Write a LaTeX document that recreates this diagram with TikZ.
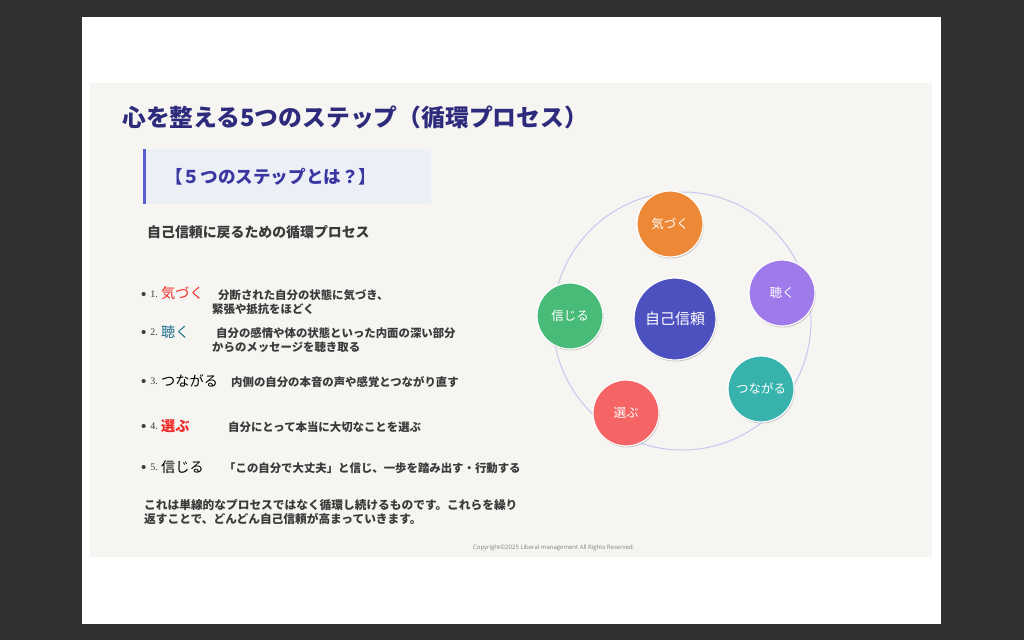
\documentclass[tikz,border=0pt]{standalone}
\usepackage{fontspec}
\setmainfont{Noto Sans CJK JP}
\newfontfamily\numfont{Liberation Serif}
\newfontfamily\dotfont{Liberation Sans}
\newfontfamily\latinfont{Open Sans}
\usepackage{xcolor}
\usetikzlibrary{positioning, shadows}

\definecolor{framegray}{HTML}{303030}
\definecolor{slidebg}{HTML}{F6F5F2}
\definecolor{titleblue}{HTML}{2E2B7C}
\definecolor{headblue}{HTML}{3A37A3}
\definecolor{barblue}{HTML}{5A5FD0}
\definecolor{headfill}{HTML}{ECF0F6}
\definecolor{bodygray}{HTML}{3A3A3A}
\definecolor{termred}{HTML}{F22A2A}
\definecolor{termteal}{HTML}{1E6E8A}
\definecolor{ringline}{HTML}{C5C9EE}
\definecolor{coreblue}{HTML}{4C51BF}
\definecolor{noticeorange}{HTML}{ED8936}
\definecolor{listenpurple}{HTML}{9F7AEA}
\definecolor{connectteal}{HTML}{38B2AC}
\definecolor{choosered}{HTML}{F56565}
\definecolor{trustgreen}{HTML}{48BB78}

\newcommand{\listdot}{\raisebox{-2pt}{\dotfont\fontsize{15}{15}\selectfont •}\hspace{4pt}}

\begin{document}
\begin{tikzpicture}[
  x=1pt, y=-1pt,
  title/.style={anchor=west, inner sep=0pt, text=titleblue,
                font=\fontsize{23.8}{28}\selectfont\bfseries},
  lead/.style={anchor=west, inner sep=0pt, text=bodygray,
               font=\fontsize{13.9}{16}\selectfont\bfseries},
  bullet/.style={anchor=west, inner sep=0pt, text=bodygray,
                 font=\fontsize{10}{11}\selectfont\numfont},
  term/.style={anchor=west, inner sep=0pt,
               font=\fontsize{14.2}{16}\selectfont},
  desc/.style={anchor=west, inner sep=0pt, text=bodygray, align=left,
               font=\fontsize{11.4}{14}\selectfont\bfseries},
  stepdot/.style={circle, draw=white, line width=1.2pt, text=white,
                  minimum size=66pt, inner sep=0pt,
                  font=\fontsize{12.5}{14}\selectfont,
                  drop shadow={shadow xshift=0.8pt, shadow yshift=-1.5pt,
                               opacity=0.18, fill=black}},
]

%% Frame, page and slide
\useasboundingbox (0,0) rectangle (1024,640);
\fill[framegray] (0,0) rectangle (1024,640);
\fill[white] (82,17) rectangle (941,624);
\fill[slidebg] (90,83) rectangle (932,557);

%% Title
\node[title] (head) at (122,117) {心を整える5つのステップ（循環プロセス）};

%% Heading box
\fill[headfill] (146,149) rectangle (431,204);
\fill[barblue] (143,149) rectangle (146,204);
\node[anchor=west, inner sep=0pt, text=headblue,
      font=\fontsize{17.6}{20}\selectfont\bfseries] (what) at (165,177)
      {【５つのステップとは？】};

\node[lead] (intro) at (147,232) {自己信頼に戻るための循環プロセス};

%% Step list
\node[bullet] (n1) at (141,295) {\listdot 1.};
\node[term, text=termred] (t1) at (161,293) {気づく};
\node[desc] (d1) at (212,302) {\hspace*{6pt}分断された自分の状態に気づき、\\緊張や抵抗をほどく};

\node[bullet] (n2) at (141,333) {\listdot 2.};
\node[term, text=termteal] (t2) at (161,332) {聴く};
\node[desc] (d2) at (212,340) {\hspace*{4pt}自分の感情や体の状態といった内面の深い部分\\からのメッセージを聴き取る};

\node[bullet] (n3) at (141,382) {\listdot 3.};
\node[term, text=black] (t3) at (161,381) {つながる};
\node[desc] (d3) at (231,382) {内側の自分の本音の声や感覚とつながり直す};

\node[bullet] (n4) at (141,427) {\listdot 4.};
\node[term, text=termred, font=\fontsize{14.2}{16}\selectfont\bfseries] (t4) at (161,426) {選ぶ};
\node[desc] (d4) at (228,427) {自分にとって本当に大切なことを選ぶ};

\node[bullet] (n5) at (141,468) {\listdot 5.};
\node[term, text=black] (t5) at (161,467) {信じる};
\node[desc] (d5) at (224,468) {「この自分で大丈夫」と信じ、一歩を踏み出す・行動する};

%% Closing note
\node[desc, font=\fontsize{11.7}{14}\selectfont\bfseries] (note) at (144,512)
      {これは単線的なプロセスではなく循環し続けるものです。これらを繰り\\返すことで、どんどん自己信頼が高まっていきます。};

\node[anchor=west, inner sep=0pt, text=gray,
      font=\fontsize{6}{7}\selectfont\latinfont] (copy) at (473,548)
      {Copyright©2025 Liberal management All Rights Reserved.};

%% Cycle diagram
\draw[ringline, line width=1pt] (682,321) circle[radius=129];
\node[stepdot, fill=coreblue, minimum size=82pt,
      font=\fontsize{15}{18}\selectfont] (core) at (675,319) {自己信頼};
\node[stepdot, fill=noticeorange] (notice) at (670,224) {気づく};
\node[stepdot, fill=listenpurple] (listen) at (782,293) {聴く};
\node[stepdot, fill=connectteal] (connect) at (761,389) {つながる};
\node[stepdot, fill=choosered] (choose) at (626,413) {選ぶ};
\node[stepdot, fill=trustgreen] (trust) at (570,316) {信じる};

\end{tikzpicture}
\end{document}
